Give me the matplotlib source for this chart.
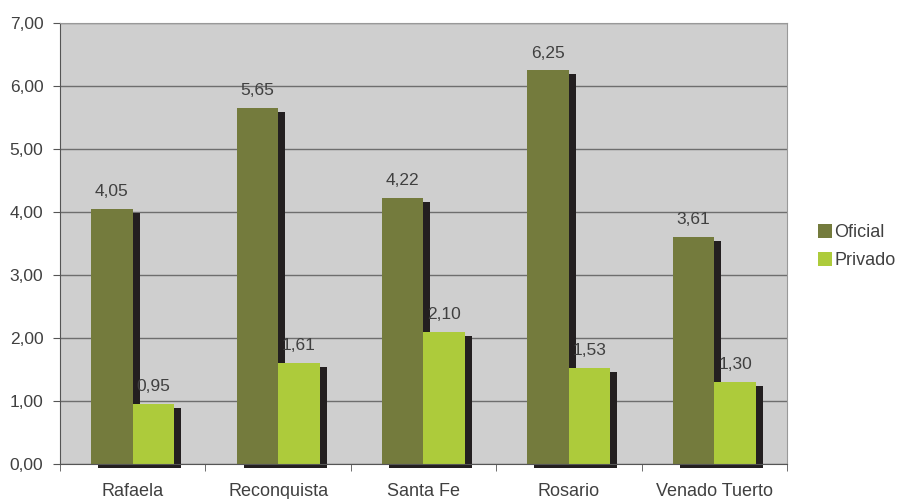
import matplotlib.pyplot as plt
import matplotlib.transforms as mtransforms
import numpy as np

ciudades = ["Rafaela", "Reconquista", "Santa Fe", "Rosario", "Venado Tuerto"]
oficial = [4.05, 5.65, 4.22, 6.25, 3.61]
privado = [0.95, 1.61, 2.10, 1.53, 1.30]

c_oficial = "#747b3d"
c_privado = "#adcb3b"
c_sombra = "#231f20"
c_texto = "#404040"

fig = plt.figure(figsize=(8.99, 4.99), dpi=100)
ax = fig.add_axes([0.0667, 0.0701, 0.8087, 0.8838])
ax.set_facecolor("#cfcfcf")

x = np.arange(len(ciudades))
w = 0.285

# shadow shifted right/down by a few pixels
sombra = ax.transData + mtransforms.ScaledTranslation(0.07, -0.04, fig.dpi_scale_trans)
for off, vals in [(-w / 2, oficial), (w / 2, privado)]:
    bars = ax.bar(x + off, vals, w, color=c_sombra, zorder=2)
    for b in bars:
        b.set_transform(sombra)
        b.set_clip_on(False)

b1 = ax.bar(x - w / 2, oficial, w, color=c_oficial, label="Oficial", zorder=3)
b2 = ax.bar(x + w / 2, privado, w, color=c_privado, label="Privado", zorder=3)

for bars, vals in [(b1, oficial), (b2, privado)]:
    for b, v in zip(bars, vals):
        ax.annotate(f"{v:.2f}".replace(".", ","), (b.get_x() + b.get_width() / 2, v),
                    xytext=(0, 7), textcoords="offset points", ha="center", va="bottom",
                    fontsize=12.5, color=c_texto, family="Liberation Sans")

ax.set_xlim(-0.5, len(ciudades) - 0.5)
ax.set_ylim(0, 7)
ax.set_yticks(np.arange(0, 8))
ax.set_yticklabels([f"{v:.2f}".replace(".", ",") for v in range(8)])
ax.yaxis.grid(True, color="#6e6e6e", linewidth=1)
ax.set_axisbelow(True)

ax.set_xticks(x)
ax.set_xticklabels(ciudades)
ax.set_xticks(np.arange(-0.5, len(ciudades)), minor=True)
ax.tick_params(axis="x", which="major", length=0, pad=14)
ax.tick_params(axis="x", which="minor", length=5, color="#555555")
ax.tick_params(axis="y", length=5, color="#555555", pad=7)
for lab in ax.get_xticklabels():
    lab.set_fontsize(13)
for lab in ax.get_yticklabels():
    lab.set_fontsize(12.5)
for lab in ax.get_xticklabels() + ax.get_yticklabels():
    lab.set_color(c_texto)
    lab.set_family("Liberation Sans")

ax.spines["left"].set_color("#555555")
ax.spines["bottom"].set_color("#555555")
ax.spines["bottom"].set_zorder(4)
ax.spines["top"].set_color("#999999")
ax.spines["right"].set_color("#999999")

leg = ax.legend(loc="center left", bbox_to_anchor=(1.02, 0.493), frameon=False,
                handlelength=0.78, handleheight=0.78, handletextpad=0.15,
                labelspacing=0.6, prop={"family": "Liberation Sans", "size": 13})
for t in leg.get_texts():
    t.set_color(c_texto)

fig.savefig("out.png", dpi=100)
